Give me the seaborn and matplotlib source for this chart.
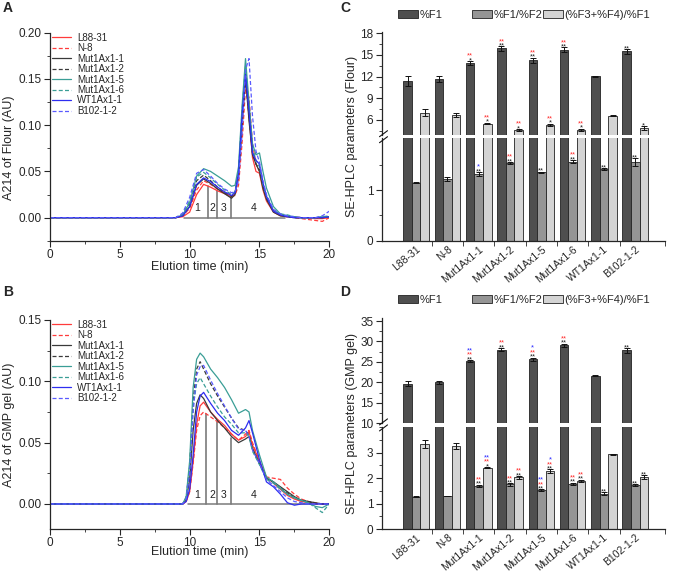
import numpy as np
import pandas as pd
import matplotlib
matplotlib.use('Agg')
import matplotlib.pyplot as plt
import seaborn as sns
from matplotlib.lines import Line2D
from matplotlib.patches import Patch
from matplotlib.ticker import MultipleLocator, FixedLocator

# ---- chromatogram data (A: flour, B: GMP gel) ----
lines = ['L88-31', 'N-8', 'Mut1Ax1-1', 'Mut1Ax1-2', 'Mut1Ax1-5', 'Mut1Ax1-6', 'WT1Ax1-1', 'B102-1-2']
line_colors = ['#ff3b3b', '#ff3b3b', '#3a3a3a', '#3a3a3a', '#3a9e96', '#3a9e96', '#2e2ef0', '#5a5aff']
line_dashed = [False, True, False, True, False, True, False, True]

time_A = [0, 9, 9.5, 10, 10.5, 11, 11.5, 12, 12.5, 13, 13.25, 13.5, 13.75, 14, 14.25, 14.5,
          14.75, 15, 15.25, 15.5, 16, 16.5, 17, 17.5, 18, 19, 19.5, 20]
flour_L88_31 = [0, 0, 0.001, 0.006, 0.025, 0.036, 0.033, 0.029, 0.026, 0.022, 0.026, 0.045, 0.100, 0.155,
                0.110, 0.065, 0.050, 0.048, 0.030, 0.018, 0.006, 0.002, 0.001, 0.001, 0.000, -0.001, -0.001, 0.000]
flour_N_8 = [0, 0, 0.002, 0.010, 0.030, 0.040, 0.036, 0.031, 0.027, 0.023, 0.024, 0.035, 0.080, 0.140,
             0.130, 0.080, 0.058, 0.050, 0.035, 0.022, 0.008, 0.003, 0.001, 0.000, -0.001, -0.003, -0.004, 0.000]
flour_Mut1 = [0, 0, 0.002, 0.012, 0.035, 0.042, 0.037, 0.031, 0.026, 0.021, 0.025, 0.045, 0.105, 0.152,
              0.105, 0.068, 0.058, 0.050, 0.032, 0.020, 0.006, 0.002, 0.001, 0.000, 0.000, 0.000, 0.000, 0.001]
flour_Mut2 = [0, 0, 0.003, 0.015, 0.040, 0.046, 0.040, 0.033, 0.027, 0.023, 0.027, 0.048, 0.100, 0.150,
              0.110, 0.070, 0.058, 0.052, 0.034, 0.021, 0.007, 0.003, 0.001, 0.000, 0.000, 0.000, 0.000, 0.001]
flour_Mut5 = [0, 0, 0.003, 0.016, 0.045, 0.053, 0.050, 0.045, 0.040, 0.034, 0.035, 0.055, 0.120, 0.172,
              0.125, 0.080, 0.068, 0.070, 0.050, 0.032, 0.012, 0.004, 0.002, 0.001, 0.000, 0.000, 0.001, 0.001]
flour_Mut6 = [0, 0, 0.004, 0.018, 0.044, 0.049, 0.043, 0.036, 0.030, 0.025, 0.028, 0.050, 0.115, 0.165,
              0.120, 0.075, 0.062, 0.055, 0.036, 0.023, 0.008, 0.004, 0.003, 0.001, 0.000, 0.000, 0.001, 0.002]
flour_WT = [0, 0, 0.002, 0.012, 0.036, 0.043, 0.039, 0.033, 0.028, 0.024, 0.027, 0.048, 0.110, 0.155,
            0.115, 0.070, 0.062, 0.058, 0.038, 0.023, 0.007, 0.003, 0.001, 0.000, 0.000, 0.000, 0.000, 0.001]
flour_B102 = [0, 0, 0.005, 0.022, 0.048, 0.052, 0.045, 0.037, 0.031, 0.027, 0.028, 0.040, 0.090, 0.160,
              0.172, 0.110, 0.072, 0.060, 0.040, 0.025, 0.009, 0.004, 0.002, 0.001, 0.000, 0.000, 0.002, 0.007]

time_B = [0, 9, 9.5, 9.75, 10, 10.25, 10.5, 10.75, 11, 11.5, 12, 12.5, 13, 13.5, 14, 14.25, 14.5,
          15, 15.5, 16, 16.5, 17, 17.5, 18, 18.5, 19, 19.5, 20]
gmp_L88_31 = [0, 0, 0.000, 0.002, 0.010, 0.035, 0.065, 0.080, 0.083, 0.075, 0.069, 0.064, 0.057, 0.052,
              0.055, 0.059, 0.048, 0.035, 0.022, 0.017, 0.012, 0.007, 0.004, 0.002, 0.001, 0.000, 0.000, 0.000]
gmp_N_8 = [0, 0, 0.000, 0.002, 0.010, 0.033, 0.060, 0.072, 0.075, 0.071, 0.067, 0.062, 0.057, 0.052,
           0.057, 0.060, 0.050, 0.035, 0.022, 0.021, 0.020, 0.013, 0.008, 0.004, 0.002, 0.001, 0.000, 0.000]
gmp_Mut1 = [0, 0, 0.000, 0.003, 0.020, 0.060, 0.082, 0.089, 0.086, 0.075, 0.068, 0.062, 0.055, 0.050,
            0.053, 0.055, 0.045, 0.033, 0.021, 0.018, 0.014, 0.010, 0.006, 0.003, 0.002, 0.001, 0.000, 0.000]
gmp_Mut2 = [0, 0, 0.000, 0.005, 0.030, 0.085, 0.110, 0.116, 0.110, 0.098, 0.088, 0.079, 0.070, 0.062,
            0.060, 0.056, 0.045, 0.033, 0.021, 0.018, 0.013, 0.009, 0.005, 0.003, 0.002, 0.000, 0.000, 0.000]
gmp_Mut5 = [0, 0, 0.000, 0.006, 0.035, 0.095, 0.118, 0.123, 0.120, 0.110, 0.103, 0.095, 0.085, 0.074,
            0.077, 0.075, 0.060, 0.040, 0.022, 0.018, 0.013, 0.008, 0.005, 0.003, 0.001, -0.002, -0.003, 0.000]
gmp_Mut6 = [0, 0, 0.000, 0.005, 0.030, 0.080, 0.098, 0.103, 0.098, 0.088, 0.079, 0.071, 0.065, 0.058,
            0.058, 0.055, 0.043, 0.032, 0.020, 0.017, 0.012, 0.008, 0.005, 0.003, 0.001, -0.003, -0.007, 0.000]
gmp_WT = [0, 0, 0.000, 0.002, 0.012, 0.040, 0.075, 0.088, 0.091, 0.082, 0.074, 0.068, 0.060, 0.056,
          0.062, 0.068, 0.058, 0.036, 0.018, 0.014, 0.008, 0.001, -0.001, 0.000, 0.000, 0.000, 0.000, 0.000]
gmp_B102 = [0, 0, 0.000, 0.004, 0.025, 0.075, 0.105, 0.112, 0.113, 0.101, 0.090, 0.080, 0.070, 0.061,
            0.060, 0.055, 0.044, 0.033, 0.020, 0.015, 0.010, 0.005, 0.002, 0.001, 0.000, 0.000, 0.000, 0.000]

flour_curves = [flour_L88_31, flour_N_8, flour_Mut1, flour_Mut2, flour_Mut5, flour_Mut6, flour_WT, flour_B102]
gmp_curves = [gmp_L88_31, gmp_N_8, gmp_Mut1, gmp_Mut2, gmp_Mut5, gmp_Mut6, gmp_WT, gmp_B102]

# fraction cut points and the region numbers
cut_t_A = [11.3, 11.95, 12.95]
cut_h_A = [0.034, 0.029, 0.023]
cut_t_B = [11.2, 11.95, 12.95]
cut_h_B = [0.073, 0.067, 0.054]
base_A = [9.6, 16.8]
base_B = [9.9, 18.8]
region_labels = ['1', '2', '3', '4']
region_t = [10.55, 11.62, 12.42, 14.55]

# ---- SE-HPLC parameters (C: flour, D: GMP gel) ----
params = ['%F1', '%F1/%F2', '(%F3+%F4)/%F1']
bar_colors = ['#4f4f4f', '#959595', '#d4d4d4']

flour_F1 = [11.4, 11.7, 13.85, 15.9, 14.25, 15.75, 12.05, 15.5]
flour_F1_err = [0.65, 0.4, 0.3, 0.3, 0.35, 0.3, 0.08, 0.3]
flour_F12 = [1.14, 1.21, 1.31, 1.53, 1.35, 1.56, 1.41, 1.55]
flour_F12_err = [0.01, 0.04, 0.04, 0.02, 0.01, 0.03, 0.02, 0.08]
flour_F34 = [7.0, 6.7, 5.5, 4.6, 5.35, 4.65, 6.6, 4.85]
flour_F34_err = [0.5, 0.3, 0.1, 0.15, 0.15, 0.12, 0.03, 0.3]

gmp_F1 = [19.7, 20.0, 25.2, 28.0, 25.6, 29.1, 21.6, 27.8]
gmp_F1_err = [0.65, 0.45, 0.25, 0.35, 0.45, 0.35, 0.1, 0.6]
gmp_F12 = [1.27, 1.29, 1.70, 1.75, 1.53, 1.78, 1.39, 1.72]
gmp_F12_err = [0.01, 0.01, 0.04, 0.04, 0.03, 0.04, 0.05, 0.04]
gmp_F34 = [3.35, 3.28, 2.41, 2.03, 2.28, 1.89, 2.94, 2.04]
gmp_F34_err = [0.15, 0.12, 0.03, 0.05, 0.06, 0.05, 0.02, 0.08]

# significance marks: black / red / blue rows, stacked upward
flour_F1_sig = [['', '', '*', '**', '**', '**', '', '**'],
                ['', '', '**', '**', '**', '**', '', ''],
                ['', '', '', '', '', '', '', '']]
flour_F12_sig = [['', '', '**', '**', '**', '**', '**', '**'],
                 ['', '', '', '**', '', '**', '', ''],
                 ['', '', '*', '', '', '', '', '']]
flour_F34_sig = [['', '', '*', '*', '*', '*', '', '*'],
                 ['', '', '**', '**', '**', '**', '', ''],
                 ['', '', '', '', '', '', '', '']]
gmp_F1_sig = [['', '', '**', '**', '**', '**', '', '**'],
              ['', '', '**', '**', '**', '**', '', ''],
              ['', '', '**', '', '*', '', '', '']]
gmp_F12_sig = [['', '', '**', '**', '**', '**', '**', '**'],
               ['', '', '**', '**', '**', '**', '', ''],
               ['', '', '', '', '**', '', '', '']]
gmp_F34_sig = [['', '', '*', '**', '**', '**', '', '**'],
               ['', '', '**', '**', '**', '**', '', ''],
               ['', '', '**', '', '*', '', '', '']]
sig_colors = ['#222222', '#ff2a2a', '#2a2aff']

sns.set_style('ticks')
plt.rcParams['font.family'] = ['Liberation Sans', 'DejaVu Sans']
plt.rcParams['axes.linewidth'] = 0.9
plt.rcParams['xtick.major.width'] = 0.8
plt.rcParams['ytick.major.width'] = 0.8

W, H = 675, 575
fig = plt.figure(figsize=(W / 100, H / 100), dpi=100)


def px_axes(x0, x1, y0, y1):
    # axes box from pixel edges (y measured from the top)
    return fig.add_axes([x0 / W, 1 - y1 / H, (x1 - x0) / W, (y1 - y0) / H])


def chrom_panel(ax, t, curves, cut_t, cut_h, base, ylim, ymax_tick, label_y, leg_y):
    for name, col, dashed, y in zip(lines, line_colors, line_dashed, curves):
        sns.lineplot(x=t, y=y, ax=ax, color=col, lw=0.9, label=name,
                     linestyle=(0, (3.2, 1.8)) if dashed else '-')
    gray = '#7a7a7a'
    ax.plot(base, [0, 0], color=gray, lw=1.1, zorder=1)
    for ct, ch in zip(cut_t, cut_h):
        ax.plot([ct, ct], [0, ch], color=gray, lw=1.2, zorder=1)
    for lab, rt in zip(region_labels, region_t):
        ax.text(rt, label_y, lab, ha='center', va='center', fontsize=7.5, color='#222222')
    ax.set_xlim(0, 20)
    ax.set_ylim(*ylim)
    ax.xaxis.set_major_locator(MultipleLocator(5))
    ax.xaxis.set_minor_locator(MultipleLocator(2.5))
    ax.yaxis.set_major_locator(FixedLocator(np.arange(0, ymax_tick + 0.001, 0.05)))
    ax.yaxis.set_minor_locator(FixedLocator(np.arange(-0.025, ymax_tick + 0.001, 0.025)))
    ax.yaxis.set_major_formatter(matplotlib.ticker.FormatStrFormatter('%.2f'))
    ax.tick_params(which='major', length=4, labelsize=8.5, pad=2)
    ax.tick_params(which='minor', length=2)
    ax.set_xlabel('')
    ax.set_ylabel('')
    sns.despine(ax=ax)
    ax.legend(loc='upper left', bbox_to_anchor=(0.0, leg_y), frameon=False, fontsize=7,
              handlelength=2.0, labelspacing=0.05, borderaxespad=0, borderpad=0.2,
              handletextpad=0.6)


axA = px_axes(50, 329.3, 32.7, 240.8)
chrom_panel(axA, time_A, flour_curves, cut_t_A, cut_h_A, base_A, (-0.025, 0.2), 0.2, 0.010, 1.01)
axB = px_axes(50, 329.3, 320, 528.5)
chrom_panel(axB, time_B, gmp_curves, cut_t_B, cut_h_B, base_B, (-0.02, 0.15), 0.15, 0.0075, 1.01)

fig.text(200 / W, 1 - 267 / H, 'Elution time (min)', ha='center', va='center', fontsize=9)
fig.text(200 / W, 1 - 552 / H, 'Elution time (min)', ha='center', va='center', fontsize=9)
fig.text(9 / W, 1 - 148 / H, 'A214 of Flour (AU)', rotation=90, ha='center', va='center', fontsize=9)
fig.text(9 / W, 1 - 425 / H, 'A214 of GMP gel (AU)', rotation=90, ha='center', va='center', fontsize=9)


def bar_panel(ax_top, ax_bot, vals, errs, sigs, top_lim, bot_lim, top_major, top_minor,
              bot_major, bot_minor):
    df = pd.DataFrame({
        'line': lines * 3,
        'param': [p for p in params for _ in lines],
        'value': vals[0] + vals[1] + vals[2],
    })
    for ax in (ax_top, ax_bot):
        sns.barplot(data=df, x='line', y='value', hue='param', order=lines, hue_order=params,
                    palette=bar_colors, width=0.82, saturation=1, edgecolor='#222222',
                    linewidth=0.6, errorbar=None, legend=False, ax=ax)
        for cont, v, e in zip(ax.containers, vals, errs):
            xs = [b.get_x() + b.get_width() / 2 for b in cont]
            ax.errorbar(xs, v, yerr=e, fmt='none', ecolor='#111111', elinewidth=0.7,
                        capsize=2, capthick=0.7, zorder=3)
        ax.set_xlim(-1.1, 7.95)
        ax.set_xlabel('')
        ax.set_ylabel('')
        ax.tick_params(which='major', length=4, labelsize=8.5, pad=2)
        ax.tick_params(which='minor', length=2)
    # marks
    for cont, v, e, sg in zip(ax_bot.containers, vals, errs, sigs):
        for i, b in enumerate(cont):
            x = b.get_x() + b.get_width() / 2
            top = v[i] + e[i]
            ax = ax_top if top > bot_lim[1] else ax_bot
            k = 0
            for row, c in zip(sg, sig_colors):
                if row[i]:
                    ax.annotate(row[i], (x, top), xytext=(0, -2.2 + 3.2 * k), textcoords='offset points',
                                ha='center', va='bottom', fontsize=5.5, color=c, annotation_clip=False)
                    k += 1
    ax_top.set_ylim(*top_lim)
    ax_bot.set_ylim(*bot_lim)
    ax_top.yaxis.set_major_locator(FixedLocator(top_major))
    ax_top.yaxis.set_minor_locator(FixedLocator(top_minor))
    ax_bot.yaxis.set_major_locator(FixedLocator(bot_major))
    ax_bot.yaxis.set_minor_locator(FixedLocator(bot_minor))
    ax_top.tick_params(axis='x', which='both', bottom=False, labelbottom=False)
    sns.despine(ax=ax_top, bottom=True)
    sns.despine(ax=ax_bot)
    ax_bot.xaxis.set_major_locator(FixedLocator(range(len(lines))))
    ax_bot.set_xticklabels(lines, rotation=40, ha='right', rotation_mode='anchor', fontsize=7.5)
    ax_bot.tick_params(axis='x', which='major', length=0, pad=2.5)
    ax_bot.xaxis.set_minor_locator(FixedLocator([i + 0.5 for i in range(7)] + [7.95]))
    ax_bot.tick_params(axis='x', which='minor', length=3.5)


axC_top = px_axes(381.7, 665, 31.7, 135)
axC_bot = px_axes(381.7, 665, 138.3, 240.7)
bar_panel(axC_top, axC_bot,
          [flour_F1, flour_F12, flour_F34], [flour_F1_err, flour_F12_err, flour_F34_err],
          [flour_F1_sig, flour_F12_sig, flour_F34_sig],
          (3.91, 18.22), (0, 2.02), [6, 9, 12, 15, 18], np.arange(4.5, 18.1, 1.5),
          [0, 1], [0.5, 1.5])

axD_top = px_axes(381.7, 665, 318.3, 423.3)
axD_bot = px_axes(381.7, 665, 426.5, 529)
bar_panel(axD_top, axD_bot,
          [gmp_F1, gmp_F12, gmp_F34], [gmp_F1_err, gmp_F12_err, gmp_F34_err],
          [gmp_F1_sig, gmp_F12_sig, gmp_F34_sig],
          (10, 35.66), (0, 4.03), [10, 15, 20, 25, 30, 35], np.arange(12.5, 35.1, 2.5),
          [0, 1, 2, 3], np.arange(0.5, 4.01, 0.5))

fig.text(351.7 / W, 1 - 136 / H, 'SE-HPLC parameters (Flour)', rotation=90, ha='center', va='center', fontsize=9)
fig.text(351.7 / W, 1 - 423 / H, 'SE-HPLC parameters (GMP gel)', rotation=90, ha='center', va='center', fontsize=9)

# axis break marks
for yb in (136.7, 424.9):
    for dy in (-3.0, 3.0):
        fig.add_artist(Line2D([379.5 / W, 387.5 / W], [1 - (yb + dy + 3) / H, 1 - (yb + dy - 3) / H],
                              color='#111111', lw=0.8))

# bar legends
leg_x = [398, 471.7, 543]
for ycen in (15, 300):
    for lx, p, c in zip(leg_x, params, bar_colors):
        fig.legend(handles=[Patch(facecolor=c, edgecolor='#222222', lw=0.6)], labels=[p],
                   loc='center left', bbox_to_anchor=(lx / W, 1 - ycen / H), frameon=False,
                   borderpad=0, borderaxespad=0, handlelength=1.8, handleheight=0.8,
                   handletextpad=0.15, fontsize=8)

# panel letters
for lab, x, y in [('A', 3, 8), ('B', 3, 292), ('C', 340, 8), ('D', 340, 292)]:
    fig.text(x / W, 1 - y / H, lab, fontsize=10, fontweight='bold', ha='left', va='center')

fig.savefig('out.png', dpi=100)
